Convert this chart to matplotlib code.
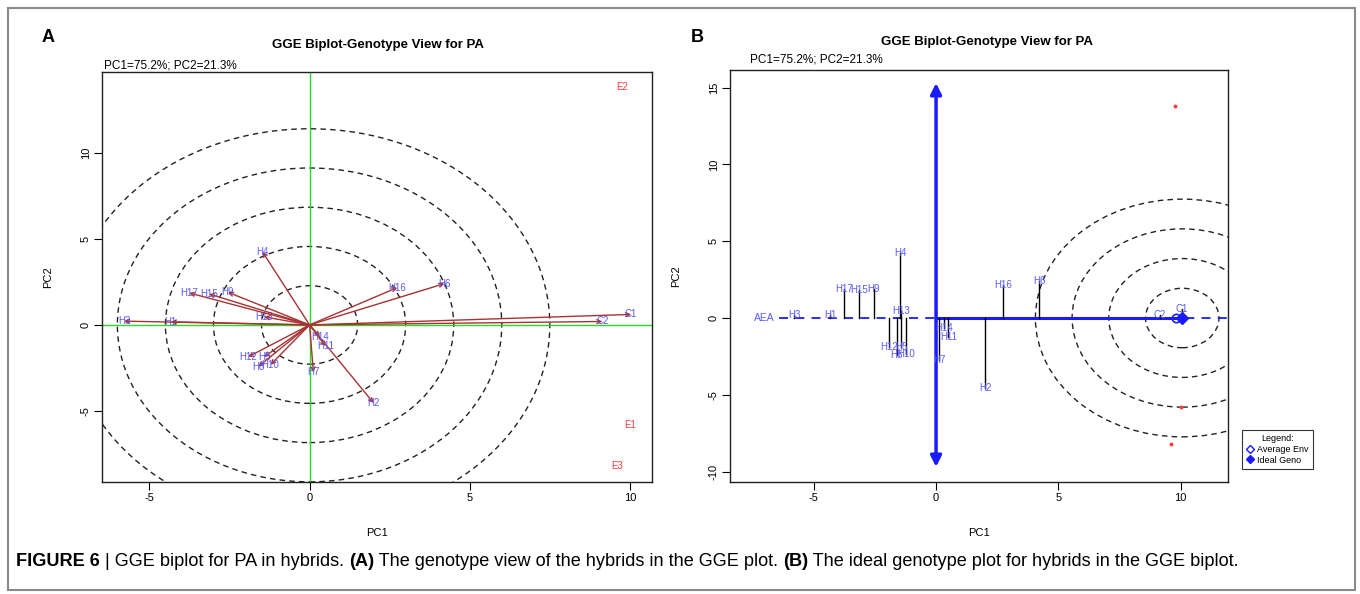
import numpy as np
import matplotlib.pyplot as plt
from matplotlib.patches import Ellipse, Rectangle
from matplotlib.lines import Line2D

# genotype scores (PC1, PC2)
geno = ['H1', 'H2', 'H3', 'H4', 'H5', 'H6', 'H7', 'H8', 'H9', 'H10',
        'H11', 'H12', 'H13', 'H14', 'H15', 'H16', 'H17', 'C1', 'C2']
geno_pc1 = [-4.33, 2.00, -5.79, -1.47, -1.42, 4.21, 0.12, -1.60, -2.55, -1.22,
            0.50, -1.92, -1.42, 0.32, -3.14, 2.74, -3.76, 10.04, 9.14]
geno_pc2 = [0.18, -4.54, 0.22, 4.25, -1.86, 2.40, -2.76, -2.42, 1.90, -2.32,
            -1.23, -1.86, 0.47, -0.68, 1.80, 2.17, 1.86, 0.61, 0.20]

# environment scores
env = ['E1', 'E2', 'E3']
env_pc1 = [10.00, 9.76, 9.60]
env_pc2 = [-5.81, 13.80, -8.18]

# concentric rings (PC1 radius)
rings_a = [1.5, 3.0, 4.5, 6.0, 7.5]
rings_b = [1.5, 3.0, 4.5, 6.0]

avg_env_x = 9.79
ideal_x = 10.06

pct_text = "PC1=75.2%; PC2=21.3%"
title = "GGE Biplot-Genotype View for PA"

BLUE_TXT = '#5a5aff'
ARROW = '#a83232'
RED = '#ff3b3b'

plt.rcParams['font.family'] = ['Liberation Sans', 'DejaVu Sans']

fig = plt.figure(figsize=(13.6, 5.94), dpi=100)
W, H = 1360.0, 594.0

def px_axes(l, t, r, b):
    return fig.add_axes([l / W, 1 - b / H, (r - l) / W, (b - t) / H])

def r_style(ax, xt, yt):
    ax.set_xticks(xt)
    ax.set_yticks(yt)
    ax.set_xticklabels([str(v) for v in xt])
    ax.set_yticklabels([str(v) for v in yt], rotation=90, va='center')
    ax.tick_params(direction='out', length=6, width=0.8, labelsize=8, pad=2)
    for s in ax.spines.values():
        s.set_linewidth(1.0)
        s.set_color('#222222')

# ---------------- panel A ----------------
axA = px_axes(102, 72, 652, 482)
axA.set_xlim(-6.48, 10.69)
axA.set_ylim(-9.13, 14.7)
r_style(axA, [-5, 0, 5, 10], [-5, 0, 5, 10])

for r in rings_a:
    axA.add_patch(Ellipse((0, 0), 2 * r, 2 * r * 1.52, fill=False,
                          ls=(0, (4, 3)), lw=1.0, color='#222222'))
axA.axhline(0, color='#22dd22', lw=1.0)
axA.axvline(0, color='#22dd22', lw=1.0)

for g, x, y in zip(geno, geno_pc1, geno_pc2):
    axA.annotate('', xy=(x, y), xytext=(0, 0),
                 arrowprops=dict(arrowstyle='->', color=ARROW, lw=1.0,
                                 mutation_scale=7, shrinkA=0, shrinkB=0))
    axA.text(x, y, g, color=BLUE_TXT, fontsize=7, ha='center', va='center')
for e, x, y in zip(env, env_pc1, env_pc2):
    axA.text(x, y, e, color=RED, fontsize=7, ha='center', va='center')

axA.set_xlabel('PC1', fontsize=8, labelpad=18)
axA.set_ylabel('PC2', fontsize=8, labelpad=20)

fig.text(378 / W, 1 - 45 / H, title, fontsize=9.5, fontweight='bold',
         ha='center', va='center')
fig.text(104 / W, 1 - 65 / H, pct_text, fontsize=8.5, ha='left', va='center')
fig.text(48 / W, 1 - 38 / H, 'A', fontsize=13, fontweight='bold',
         ha='center', va='center')

# ---------------- panel B ----------------
axB = px_axes(730, 70, 1228, 482)
axB.set_xlim(-8.42, 11.93)
axB.set_ylim(-10.68, 16.15)
r_style(axB, [-5, 0, 5, 10], [-10, -5, 0, 5, 10, 15])

for r in rings_b:
    axB.add_patch(Ellipse((ideal_x, 0), 2 * r, 2 * r * 1.29, fill=False,
                          ls=(0, (4, 3)), lw=1.0, color='#222222'))

axB.plot([-6.4, 11.93], [0, 0], color='#1a1aff', lw=1.3, ls=(0, (5, 4)))
axB.plot([0, ideal_x], [0, 0], color='#1a1aff', lw=2.2)
axB.annotate('', xy=(0, 15.3), xytext=(0, -9.7),
             arrowprops=dict(arrowstyle='<|-|>', color='#1a1aff', lw=2.5,
                             mutation_scale=16, shrinkA=0, shrinkB=0))
axB.text(-7.0, 0, 'AEA', color=BLUE_TXT, fontsize=7.5, ha='center', va='center')

for g, x, y in zip(geno, geno_pc1, geno_pc2):
    axB.plot([x, x], [0, y], color='black', lw=1.0)
    axB.text(x, y, g, color=BLUE_TXT, fontsize=7, ha='center', va='center')
axB.plot(env_pc1, env_pc2, 'o', color=RED, ms=1.8, ls='none')
axB.plot([avg_env_x], [0], 'o', mfc='none', mec='#1a1aff', ms=6, mew=1.2)
axB.plot([ideal_x], [0], 'D', color='#1a1aff', ms=6)

axB.set_xlabel('PC1', fontsize=8, labelpad=18)
axB.set_ylabel('PC2', fontsize=8, labelpad=20)

fig.text(987 / W, 1 - 42 / H, title, fontsize=9.5, fontweight='bold',
         ha='center', va='center')
fig.text(750 / W, 1 - 60 / H, pct_text, fontsize=8.5, ha='left', va='center')
fig.text(697 / W, 1 - 38 / H, 'B', fontsize=13, fontweight='bold',
         ha='center', va='center')

handles = [Line2D([], [], marker='D', ls='none', mfc='none', mec='#1a1aff', ms=4.5),
           Line2D([], [], marker='D', ls='none', color='#1a1aff', ms=4.5)]
leg = fig.legend(handles, ['Average Env', 'Ideal Geno'], title='Legend:',
                 loc='upper left', bbox_to_anchor=(1237 / W, 1 - 425 / H),
                 fontsize=6.5, title_fontsize=6.5, frameon=True, fancybox=False,
                 handlelength=0.8, handletextpad=0.4, borderpad=0.5,
                 labelspacing=0.2)
leg.get_frame().set_edgecolor('black')
leg.get_frame().set_linewidth(0.8)

# ---------------- frame + caption ----------------
fig.patches.append(Rectangle((8 / W, 1 - 590 / H), 1347 / W, 582 / H,
                             transform=fig.transFigure, fill=False,
                             ec='#8a8a8a', lw=1.5))

cap_parts = [("FIGURE 6", 'bold'), (" | GGE biplot for PA in hybrids. ", 'normal'),
             ("(A)", 'bold'), (" The genotype view of the hybrids in the GGE plot. ", 'normal'),
             ("(B)", 'bold'), (" The ideal genotype plot for hybrids in the GGE biplot.", 'normal')]
renderer = fig.canvas.get_renderer()
xpos = 16
for txt, wgt in cap_parts:
    t = fig.text(xpos / W, 1 - 562 / H, txt, fontsize=13.1, fontweight=wgt,
                 ha='left', va='center')
    bb = t.get_window_extent(renderer=renderer)
    xpos += bb.width

fig.savefig('out.png', dpi=100)
